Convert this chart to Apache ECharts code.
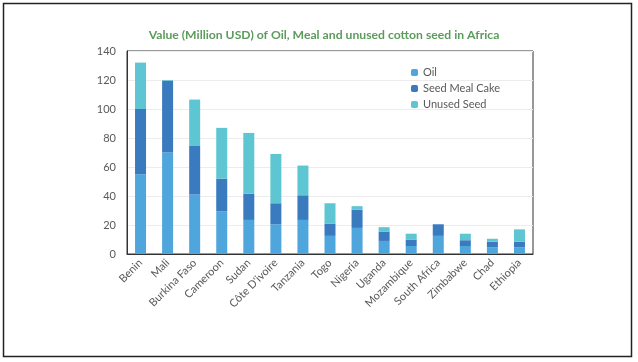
<!DOCTYPE html>
<html><head><meta charset="utf-8">
<script src="https://cdn.jsdelivr.net/npm/echarts@6/dist/echarts.min.js"></script>
<style>html,body{margin:0;padding:0;background:#fff}#c{width:638px;height:362px}</style>
</head><body><div id="c"></div>
<script>
const categories = ["Benin","Mali","Burkina Faso","Cameroon","Sudan","Côte D'ivoire","Tanzania","Togo","Nigeria","Uganda","Mozambique","South Africa","Zimbabwe","Chad","Ethiopia"];
const oil = [55, 70, 41, 29.5, 23.5, 20.5, 23.5, 12.5, 18, 9, 5.5, 12.5, 5.5, 4.5, 4.5];
const seedMealCake = [45, 49.5, 33.5, 22.5, 18, 14.5, 17, 8.5, 12.5, 6.5, 4.5, 8, 4, 4, 4];
const unusedSeed = [32, 0.5, 32, 35, 42, 34, 20.5, 14, 2.5, 3, 4, 0, 4.5, 2, 8.5];
const yTicks = [0, 20, 40, 60, 80, 100, 120, 140];

const chart = echarts.init(document.getElementById('c'));
const font = "Lato, sans-serif";
chart.setOption({
  animation: false,
  title: {
    text: 'Value (Million USD) of Oil, Meal and unused cotton seed in Africa',
    left: 319, top: 24, textAlign: 'center',
    textStyle: {fontFamily: font, fontSize: 12.2, fontWeight: 'bold', color: '#5b9b5b'}
  },
  legend: {
    orient: 'vertical', left: 406, top: 62, itemWidth: 7, itemHeight: 7, itemGap: 5,
    textStyle: {fontFamily: font, fontSize: 11, color: '#595959'},
    data: ['Oil', 'Seed Meal Cake', 'Unused Seed']
  },
  graphic: [{type: 'rect', shape: {x: 3.5, y: 3.5, width: 628, height: 353}, style: {fill: 'none', stroke: '#222', lineWidth: 1.5}, silent: true}],
  grid: {left: 127, top: 51, width: 406, height: 203, show: true, borderColor: '#333', borderWidth: 1, backgroundColor: '#fff'},
  xAxis: {
    type: 'category', data: categories,
    axisLine: {lineStyle: {color: '#333'}}, axisTick: {show: false},
    axisLabel: {rotate: 45, interval: 0, fontFamily: font, fontSize: 11, color: '#595959', margin: 7}
  },
  yAxis: {
    type: 'value', min: 0, max: 140, interval: 20,
    axisLine: {show: true, lineStyle: {color: '#333'}},
    splitLine: {lineStyle: {color: '#ececec'}},
    axisLabel: {fontFamily: font, fontSize: 11, color: '#595959', margin: 11,
      formatter: v => yTicks.includes(v) ? String(v) : ''}
  },
  series: [
    {name: 'Oil', type: 'bar', stack: 's', data: oil, barWidth: 11, itemStyle: {color: '#4fa6dc'}},
    {name: 'Seed Meal Cake', type: 'bar', stack: 's', data: seedMealCake, barWidth: 11, itemStyle: {color: '#3a7abf'}},
    {name: 'Unused Seed', type: 'bar', stack: 's', data: unusedSeed, barWidth: 11, itemStyle: {color: '#5ec6d3'}}
  ]
});
</script></body></html>
